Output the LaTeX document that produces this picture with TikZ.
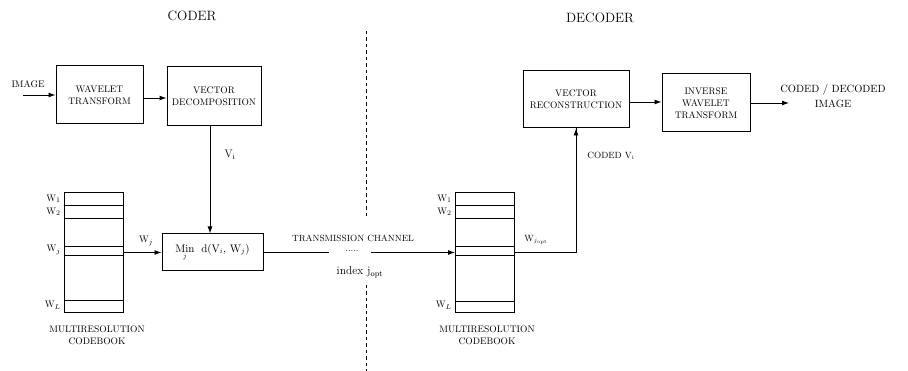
\documentclass[tikz,border=0pt]{standalone}
\usetikzlibrary{arrows.meta}
\begin{document}
\begin{tikzpicture}[x=1pt,y=-1pt,
  line width=0.9pt,
  blk/.style={draw,line width=1pt,rectangle,inner sep=0pt,align=center,font=\fontsize{9.5}{12}\selectfont},
  cbk/.style={draw,line width=1pt,rectangle,inner sep=0pt,minimum width=59pt,minimum height=120pt},
  arr/.style={-{Latex[length=7pt,width=5pt]}},
  lbl/.style={inner sep=0pt,font=\fontsize{9.5}{12}\selectfont},
  wl/.style={inner sep=0pt,anchor=east,font=\fontsize{9.5}{10}\selectfont},
  ttl/.style={inner sep=0pt,font=\fontsize{13.5}{16}\selectfont}]
\useasboundingbox (0,0) rectangle (908,371);

% titles
\node[ttl] (coder) at (192,16) {CODER};
\node[ttl] (decoder) at (600,18) {DECODER};

% divider
\coordinate (d1) at (366,31);
\coordinate (d2) at (366,218);
\coordinate (d3) at (366,285);
\coordinate (d4) at (366,371);
\draw[dash pattern=on 3.5pt off 3pt,line width=0.7pt] (d1) -- (d2);
\draw[dash pattern=on 3.5pt off 3pt,line width=0.7pt] (d3) -- (d4);

% coder blocks
\node[blk,minimum width=87pt,minimum height=58pt] (wt) at (99.5,95) {WAVELET\\TRANSFORM};
\node[blk,minimum width=94pt,minimum height=59pt] (vd) at (214,96.5) {VECTOR\\DECOMPOSITION};
\node[blk,minimum width=101pt,minimum height=37pt,font=\fontsize{10.5}{12}\selectfont] (mn) at (212.5,252.5)
  {$\mathop{\mathrm{Min}}\limits_{j}\;\,\mathrm{d}(\mathrm{V}_{i},\,\mathrm{W}_{j})$};

\node[lbl,anchor=south] (img) at (28,88) {IMAGE};
\coordinate (imgin) at (23,95);
\draw[arr] (imgin) -- (wt.west);
\draw[arr] (wt.east |- 0,98) -- (vd.west |- 0,98);
\draw[arr] (210,126) coordinate (vds) -- (vds |- mn.north);
\node[lbl,font=\fontsize{11}{12}\selectfont] (vi) at (230,155) {V$_{\mathrm{i}}$};

% codebook 1
\node[cbk] (cb1) at (93.5,253) {};
\foreach \yy in {206,219,247,256,301} \draw[line width=1pt] (cb1.west |- 0,\yy) -- (cb1.east |- 0,\yy);
\node[wl] (w11) at (61,199) {W$_1$};
\node[wl] (w12) at (61,212) {W$_2$};
\node[wl] (w1j) at (61,250) {W$_j$};
\node[wl] (w1L) at (61,305) {W$_L$};
\node[lbl,align=center] (mc1) at (97,335) {MULTIRESOLUTION\\CODEBOOK};
\draw[arr] (cb1.east |- mn.west) -- (mn.west);
\node[wl,anchor=center] (wj) at (146,241) {W$_j$};

% transmission
\coordinate (t1) at (329,252.5);
\coordinate (t2) at (371,252.5);
\draw (mn.east) -- (t1);
\node[lbl,font=\fontsize{9}{10}\selectfont] (tc) at (353,238) {TRANSMISSION CHANNEL};
\node[lbl,anchor=base] (dots) at (352,252) {.....};
\node[lbl,font=\fontsize{11.5}{13}\selectfont] (idx) at (360,272) {index j$_{\mathrm{opt}}$};

% codebook 2
\node[cbk] (cb2) at (485,252.5) {};
\foreach \yy in {206,219,247,256,302} \draw[line width=1pt] (cb2.west |- 0,\yy) -- (cb2.east |- 0,\yy);
\node[wl] (w21) at (452,199) {W$_1$};
\node[wl] (w22) at (452,212) {W$_2$};
\node[wl] (w2L) at (452,305) {W$_L$};
\node[lbl,align=center] (mc2) at (487,335) {MULTIRESOLUTION\\CODEBOOK};
\draw[arr] (t2) -- (cb2.west);

% decoder blocks
\node[blk,minimum width=106pt,minimum height=57pt] (vr) at (576,99.5) {VECTOR\\RECONSTRUCTION};
\node[blk,minimum width=88pt,minimum height=58pt] (iwt) at (706,103) {INVERSE\\WAVELET\\TRANSFORM};
\draw (cb2.east) -| coordinate (cnr) (vr.south);
\draw[arr] (cnr) -- (vr.south);
\node[lbl,font=\fontsize{9}{10}\selectfont] (wjo) at (536,240) {W$_{j_{\mathrm{opt}}}$};
\node[lbl,anchor=west,font=\fontsize{9}{10}\selectfont] (cvi) at (587,156) {CODED V$_{\mathrm{i}}$};
\draw[arr] (vr.east |- 0,102) -- (iwt.west |- 0,102);
\coordinate (outp) at (789,103);
\draw[arr] (iwt.east |- outp) -- (outp);
\node[lbl,align=center,font=\fontsize{10.5}{15}\selectfont] (cdi) at (833,96) {CODED / DECODED\\IMAGE};
\end{tikzpicture}
\end{document}
